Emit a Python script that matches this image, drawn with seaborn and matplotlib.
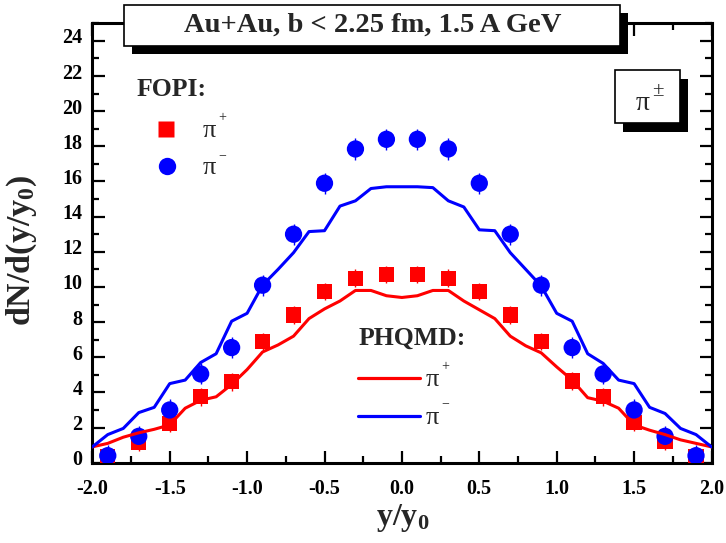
import matplotlib
matplotlib.use('Agg')
import matplotlib.pyplot as plt
import matplotlib.transforms as mtransforms
from matplotlib.patches import Rectangle
from matplotlib.lines import Line2D
from matplotlib.ticker import MultipleLocator
import seaborn as sns

# FOPI data, Au+Au b<2.25 fm, 1.5 A GeV
y_fopi = [-1.9, -1.7, -1.5, -1.3, -1.1, -0.9, -0.7, -0.5, -0.3, -0.1,
          0.1, 0.3, 0.5, 0.7, 0.9, 1.1, 1.3, 1.5, 1.7, 1.9]
pip_fopi = [0.35, 1.15, 2.25, 3.75, 4.6, 6.9, 8.4, 9.75, 10.5, 10.7,
            10.7, 10.5, 9.75, 8.4, 6.9, 4.65, 3.75, 2.3, 1.2, 0.35]
pim_fopi = [0.4, 1.5, 3.0, 5.05, 6.55, 10.1, 13.0, 15.9, 17.85, 18.4,
            18.4, 17.85, 15.9, 13.0, 10.1, 6.55, 5.05, 3.0, 1.5, 0.4]
pip_err = [0.5] * 20
pim_err = [0.6] * 20

# PHQMD curves
y_model = [-2.0, -1.9, -1.8, -1.7, -1.6, -1.5, -1.4, -1.3, -1.2, -1.1, -1.0,
           -0.9, -0.8, -0.7, -0.6, -0.5, -0.4, -0.3, -0.2, -0.1, 0.0,
           0.1, 0.2, 0.3, 0.4, 0.5, 0.6, 0.7, 0.8, 0.9, 1.0,
           1.1, 1.2, 1.3, 1.4, 1.5, 1.6, 1.7, 1.8, 1.9, 2.0]
pip_model = [0.9, 1.1, 1.45, 1.7, 1.9, 2.15, 3.1, 3.55, 3.75, 4.45, 5.3,
             6.3, 6.7, 7.2, 8.2, 8.75, 9.2, 9.8, 9.8, 9.5, 9.4,
             9.5, 9.8, 9.8, 9.2, 8.7, 8.2, 7.2, 6.65, 6.25, 5.45,
             4.7, 3.7, 3.5, 3.1, 2.15, 1.85, 1.6, 1.3, 1.1, 0.9]
pim_model = [0.9, 1.6, 1.95, 2.85, 3.15, 4.5, 4.7, 5.7, 6.2, 8.05, 8.5,
             10.1, 11.0, 11.95, 13.15, 13.2, 14.6, 14.9, 15.6, 15.7, 15.7,
             15.7, 15.65, 14.9, 14.55, 13.25, 13.2, 11.95, 11.0, 10.05, 8.5,
             8.05, 6.2, 5.65, 4.7, 4.5, 3.15, 2.8, 1.95, 1.6, 0.9]

sns.set_theme(style='ticks')
plt.rcParams['font.family'] = ['Liberation Serif', 'DejaVu Serif']
plt.rcParams['font.weight'] = 'bold'
plt.rcParams['mathtext.default'] = 'regular'
plt.rcParams['axes.unicode_minus'] = False

W, H = 726, 543
fig = plt.figure(figsize=(W / 100, H / 100), dpi=100)
ax = fig.add_axes([92.3 / W, 1 - 462.7 / H, (711.5 - 92.3) / W, (462.7 - 23.3) / H])


def px(x, y):
    # pixel position (from top-left) -> figure fraction
    return x / W, 1 - y / H


# error bars + markers
ax.errorbar(y_fopi, pip_fopi, yerr=pip_err, fmt='none', ecolor='red', elinewidth=1.0, capsize=0, zorder=2)
ax.errorbar(y_fopi, pim_fopi, yerr=pim_err, fmt='none', ecolor='blue', elinewidth=1.0, capsize=0, zorder=2)
sns.scatterplot(x=y_fopi, y=pip_fopi, marker='s', s=120, color='red', edgecolor='none',
                legend=False, ax=ax, zorder=3)
sns.scatterplot(x=y_fopi, y=pim_fopi, marker='o', s=155, color='blue', edgecolor='none',
                legend=False, ax=ax, zorder=3)
sns.lineplot(x=y_model, y=pip_model, color='red', lw=2.2, ax=ax, zorder=4)
sns.lineplot(x=y_model, y=pim_model, color='blue', lw=2.2, ax=ax, zorder=4)

ax.set_xlim(-2.0, 2.0)
ax.set_ylim(0, 25)
ax.xaxis.set_major_locator(MultipleLocator(0.5))
ax.xaxis.set_minor_locator(MultipleLocator(0.25))
ax.yaxis.set_major_locator(MultipleLocator(2))
ax.yaxis.set_minor_locator(MultipleLocator(1))
ax.tick_params(which='both', direction='in', top=True, right=True, width=1.6, color='black',
               labelsize=14.5, labelcolor='black')
ax.tick_params(which='major', length=9)
ax.tick_params(which='minor', length=5)
ax.tick_params(axis='x', pad=12)
ax.tick_params(axis='y', pad=7)
for s in ax.spines.values():
    s.set_linewidth(2.2)
    s.set_color('black')
ax.set_xlabel('')
ax.set_ylabel('')

shift = mtransforms.ScaledTranslation(0, 0.05, fig.dpi_scale_trans)
for t in ax.yaxis.get_major_ticks():
    t.label1.set_transform(t.label1.get_transform() + shift)

# axis titles
fig.text(*px(22, 250), 'dN/d(y/y$_0$)', rotation=90, ha='center', va='center', fontsize=24.5)
fig.text(*px(403, 518), 'y/y$_0$', ha='center', va='center', fontsize=23)

# title box with shadow
fig.add_artist(Rectangle(px(132, 54), (620 - 124) / W, (46 - 5) / H, transform=fig.transFigure,
                         facecolor='black', edgecolor='none', zorder=5))
fig.add_artist(Rectangle(px(124, 46), (620 - 124) / W, (46 - 5) / H, transform=fig.transFigure,
                         facecolor='white', edgecolor='black', lw=1.2, zorder=6))
fig.text(*px(373, 25), 'Au+Au, b < 2.25 fm, 1.5 A GeV', ha='center', va='center',
         fontsize=20.5, zorder=7)

# pi box with shadow
fig.add_artist(Rectangle(px(623, 131.5), (680 - 615) / W, (123 - 70) / H, transform=fig.transFigure,
                         facecolor='black', edgecolor='none', zorder=5))
fig.add_artist(Rectangle(px(615, 123), (680 - 615) / W, (123 - 70) / H, transform=fig.transFigure,
                         facecolor='white', edgecolor='black', lw=1.2, zorder=6))
fig.text(*px(643, 104), 'π', ha='center', va='center', fontsize=20, fontweight='normal', zorder=7)
fig.text(*px(658, 92), '±', ha='center', va='center', fontsize=15, fontweight='normal', zorder=7)

# FOPI legend
fig.text(*px(137, 90), 'FOPI:', ha='left', va='center', fontsize=18.5)
fig.add_artist(Line2D([166 / W], [1 - 129 / H], marker='s', ms=11.5, color='red', mec='none',
                      ls='none', transform=fig.transFigure))
fig.add_artist(Line2D([166.5 / W], [1 - 166.5 / H], marker='o', ms=12.5, color='blue', mec='none',
                      ls='none', transform=fig.transFigure))
fig.text(*px(209, 131), 'π', ha='center', va='center', fontsize=19, fontweight='normal')
fig.text(*px(222, 118), '+', ha='center', va='center', fontsize=10, fontweight='normal')
fig.text(*px(209, 168), 'π', ha='center', va='center', fontsize=19, fontweight='normal')
fig.text(*px(222, 156), '−', ha='center', va='center', fontsize=10, fontweight='normal')

# PHQMD legend
fig.text(*px(359, 338), 'PHQMD:', ha='left', va='center', fontsize=18.5)
fig.add_artist(Line2D([358 / W, 420 / W], [1 - 377.5 / H] * 2, color='red', lw=2.3,
                      transform=fig.transFigure))
fig.add_artist(Line2D([358 / W, 420 / W], [1 - 415.5 / H] * 2, color='blue', lw=2.3,
                      transform=fig.transFigure))
fig.text(*px(432, 380), 'π', ha='center', va='center', fontsize=19, fontweight='normal')
fig.text(*px(445, 367), '+', ha='center', va='center', fontsize=10, fontweight='normal')
fig.text(*px(432, 418), 'π', ha='center', va='center', fontsize=19, fontweight='normal')
fig.text(*px(445, 404), '−', ha='center', va='center', fontsize=10, fontweight='normal')

fig.savefig('out.png', dpi=100, facecolor='white')
